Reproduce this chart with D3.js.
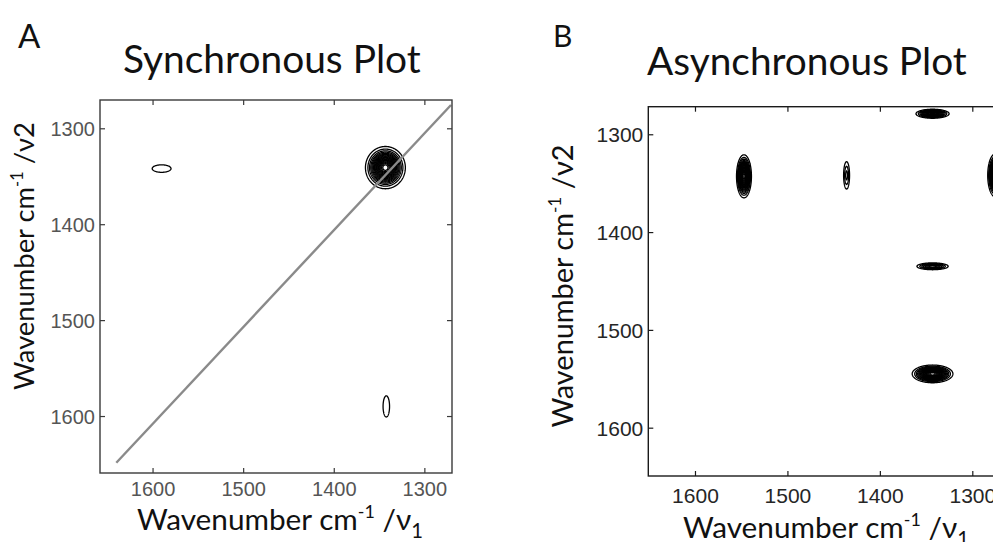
<!DOCTYPE html>
<html><head><meta charset="utf-8">
<script src="https://cdn.jsdelivr.net/npm/d3@7"></script>
<style>body{margin:0;background:#fff;overflow:hidden} svg{display:block}</style>
</head><body>
<svg id="c" width="993" height="542"></svg>
<script>
// ---------- data ----------
const xTicks = [1600, 1500, 1400, 1300];
const yTicks = [1300, 1400, 1500, 1600];
const syncXDomain = [1658, 1269.5];
const syncYDomain = [1270.5, 1659.4];
const asyncXDomain = [1650.5, 1269.5];
const asyncYDomain = [1271.8, 1649.4];
// synchronous peaks (cm-1): centre, amplitude, widths
const syncPeakX   = [1343, 1590, 1342];
const syncPeakY   = [1341, 1342, 1590];
const syncPeakAmp = [1.0, 0.09, 0.09];
const syncPeakSx  = [9.0, 9.6, 3.3];
const syncPeakSy  = [9.0, 3.6, 10.2];
// asynchronous peaks
const asyncPeakX   = [1547, 1436, 1343, 1343, 1343, 1275];
const asyncPeakY   = [1343, 1342, 1279, 1435, 1545, 1342];
const asyncPeakAmp = [1.0, 0.17, 0.7, 0.4, 1.0, 1.0];
const asyncPeakSx  = [3.3, 2.05, 7.8, 8.3, 9.0, 3.4];
const asyncPeakSy  = [9.0, 9.0, 2.0, 1.7, 3.7, 9.0];
// diagonal reference line in panel A
const diagX = [1640, 1270.6];
const diagY = [1648.7, 1275.7];
const contourLevels = [0.05,0.1,0.15,0.2,0.25,0.3,0.35,0.4,0.45,0.5,0.55,0.6,0.65,0.7,0.75,0.8,0.85,0.9,0.95];

const svg = d3.select('#c');
const defs = svg.append('defs');

// scale a text's font size (and its tspans) so that it spans the target width
function fitSize(sel, target) {
  const node = sel.node();
  const w = node.getBBox().width;
  const k = target / w;
  sel.attr('font-size', (+sel.attr('font-size') * k).toFixed(2));
  sel.selectAll('tspan').each(function () {
    const t = d3.select(this);
    if (t.attr('font-size')) t.attr('font-size', (+t.attr('font-size') * k).toFixed(2));
    if (t.attr('dy')) t.attr('dy', (+t.attr('dy') * k).toFixed(2));
  });
}

function panel(cfg) {
  const g = svg.append('g');
  const xs = d3.scaleLinear().domain(cfg.xDomain).range([cfg.left, cfg.right]);
  const ys = d3.scaleLinear().domain(cfg.yDomain).range([cfg.top, cfg.bottom]);
  const id = 'clip' + cfg.name;
  defs.append('clipPath').attr('id', id).append('rect')
    .attr('x', cfg.left).attr('y', cfg.top)
    .attr('width', cfg.right - cfg.left).attr('height', cfg.bottom - cfg.top);

  // field on a grid
  const step = 0.5;
  const gx0 = d3.min(cfg.xDomain) - 5, gx1 = d3.max(cfg.xDomain) + 5;
  const gy0 = d3.min(cfg.yDomain) - 5, gy1 = d3.max(cfg.yDomain) + 5;
  const n = Math.ceil((gx1 - gx0) / step) + 1;
  const m = Math.ceil((gy1 - gy0) / step) + 1;
  const values = new Float64Array(n * m);
  cfg.px.forEach((px, k) => {
    const py = cfg.py[k], a = cfg.amp[k], sx = cfg.sx[k], sy = cfg.sy[k];
    const i0 = Math.max(0, Math.floor((px - 6 * sx - gx0) / step));
    const i1 = Math.min(n - 1, Math.ceil((px + 6 * sx - gx0) / step));
    const j0 = Math.max(0, Math.floor((py - 6 * sy - gy0) / step));
    const j1 = Math.min(m - 1, Math.ceil((py + 6 * sy - gy0) / step));
    for (let j = j0; j <= j1; j++) {
      const y = gy0 + j * step, dy = (y - py) / sy;
      for (let i = i0; i <= i1; i++) {
        const x = gx0 + i * step, dx = (x - px) / sx;
        values[i + j * n] += a * Math.exp(-0.5 * (dx * dx + dy * dy));
      }
    }
  });
  const contours = d3.contours().size([n, m]).thresholds(contourLevels)(values);
  const proj = d3.geoTransform({
    point: function (x, y) {
      this.stream.point(xs(gx0 + (x - 0.5) * step), ys(gy0 + (y - 0.5) * step));
    }
  });
  const path = d3.geoPath(proj);
  const cg = g.append('g').attr('clip-path', `url(#${id})`);
  cg.selectAll('path.ct').data(contours).join('path')
    .attr('class', 'ct').attr('d', path)
    .attr('fill', 'none').attr('stroke', '#000').attr('stroke-width', 1.3);

  if (cfg.diag) {
    const line = d3.line().x(d => xs(d[0])).y(d => ys(d[1]));
    cg.append('path').attr('d', line(cfg.diag))
      .attr('fill', 'none').attr('stroke', '#8a8a8a').attr('stroke-width', 2.4);
  }

  // axes (inward ticks on all sides)
  const tl = 5;
  const styleAxis = a => { a.select('.domain').remove(); a.selectAll('line').attr('stroke', cfg.frame).attr('stroke-width', 1.2); };
  const bottom = g.append('g').attr('transform', `translate(0,${cfg.bottom})`)
    .call(d3.axisBottom(xs).tickValues(xTicks).tickSizeInner(-tl).tickSizeOuter(0).tickFormat(d3.format('d')));
  styleAxis(bottom);
  bottom.selectAll('text').attr('y', cfg.xLabOff).attr('dy', 0)
    .attr('font-family', 'Liberation Sans, Arial, sans-serif').attr('font-size', cfg.tickFs).attr('fill', cfg.tickFill);
  const top = g.append('g').attr('transform', `translate(0,${cfg.top})`)
    .call(d3.axisTop(xs).tickValues(xTicks).tickSizeInner(-tl).tickSizeOuter(0).tickFormat(''));
  styleAxis(top);
  const left = g.append('g').attr('transform', `translate(${cfg.left},0)`)
    .call(d3.axisLeft(ys).tickValues(yTicks).tickSizeInner(-tl).tickSizeOuter(0).tickFormat(d3.format('d')));
  styleAxis(left);
  left.selectAll('text').attr('x', -5).attr('dy', '0.36em')
    .attr('font-family', 'Liberation Sans, Arial, sans-serif').attr('font-size', cfg.tickFs).attr('fill', cfg.tickFill);
  const right = g.append('g').attr('transform', `translate(${cfg.right},0)`)
    .call(d3.axisRight(ys).tickValues(yTicks).tickSizeInner(-tl).tickSizeOuter(0).tickFormat(''));
  styleAxis(right);

  g.append('rect').attr('x', cfg.left).attr('y', cfg.top)
    .attr('width', cfg.right - cfg.left).attr('height', cfg.bottom - cfg.top)
    .attr('fill', 'none').attr('stroke', cfg.frame).attr('stroke-width', 1.4);

  const font = 'Lato, "Open Sans", sans-serif';
  // panel letter
  g.append('text').attr('x', cfg.letterX).attr('y', cfg.letterY).text(cfg.name)
    .attr('font-family', font).attr('font-size', cfg.letterFs).attr('fill', '#111');
  // title
  const t = g.append('text').attr('x', cfg.titleX).attr('y', cfg.titleY).text(cfg.title)
    .attr('font-family', font).attr('font-size', 33).attr('fill', '#111');
  fitSize(t, cfg.titleW);

  // x label
  const xl = g.append('text').attr('x', cfg.xlX).attr('y', cfg.xlY)
    .attr('font-family', font).attr('font-size', 25).attr('fill', '#111').attr('text-anchor', 'middle');
  xl.append('tspan').text('Wavenumber cm');
  xl.append('tspan').text('-1').attr('font-size', 15).attr('dy', -10);
  xl.append('tspan').text(' /ν').attr('dy', 10);
  xl.append('tspan').text('1').attr('font-size', 17).attr('dy', 7);
  fitSize(xl, cfg.xlW);

  // y label
  const yl = g.append('text').attr('transform', `translate(${cfg.ylX},${cfg.ylY}) rotate(-90)`)
    .attr('font-family', font).attr('font-size', 25).attr('fill', '#111').attr('text-anchor', 'middle');
  yl.append('tspan').text('Wavenumber cm');
  yl.append('tspan').text('-1').attr('font-size', 15).attr('dy', -10);
  yl.append('tspan').text(' /ν2').attr('dy', 10);
  fitSize(yl, cfg.ylW);
}

panel({
  name: 'A', title: 'Synchronous Plot',
  xDomain: syncXDomain, yDomain: syncYDomain,
  left: 100, right: 452, top: 100, bottom: 473,
  px: syncPeakX, py: syncPeakY, amp: syncPeakAmp, sx: syncPeakSx, sy: syncPeakSy,
  diag: diagX.map((x, i) => [x, diagY[i]]),
  frame: '#3a3a3a', tickFs: 20, tickFill: '#555', xLabOff: 23,
  letterX: 18, letterY: 48, letterFs: 33,
  titleX: 123, titleY: 73, titleW: 298,
  xlX: 280, xlY: 530, xlW: 286,
  ylX: 34, ylY: 256, ylW: 268
});
panel({
  name: 'B', title: 'Asynchronous Plot',
  xDomain: asyncXDomain, yDomain: asyncYDomain,
  left: 648.3, right: 1000.5, top: 106.7, bottom: 476,
  px: asyncPeakX, py: asyncPeakY, amp: asyncPeakAmp, sx: asyncPeakSx, sy: asyncPeakSy,
  diag: null,
  frame: '#1a1a1a', tickFs: 21, tickFill: '#262626', xLabOff: 27,
  letterX: 553, letterY: 47, letterFs: 30,
  titleX: 647, titleY: 75, titleW: 320,
  xlX: 826, xlY: 538, xlW: 286,
  ylX: 573, ylY: 286, ylW: 283
});
</script>
</body></html>
